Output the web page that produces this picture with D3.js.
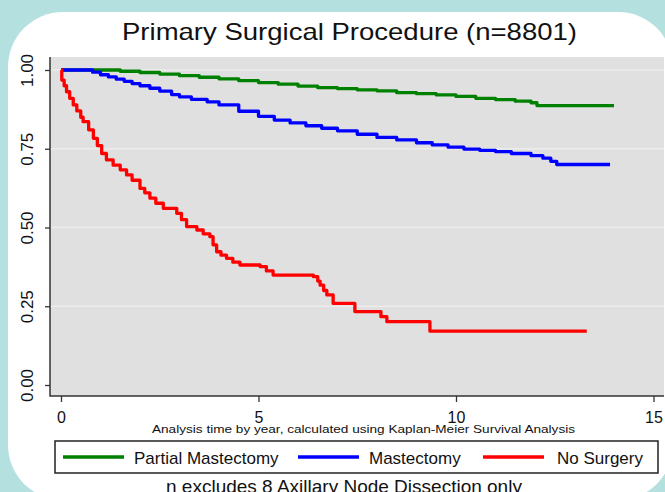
<!DOCTYPE html>
<html>
<head>
<meta charset="utf-8">
<script src="https://cdn.jsdelivr.net/npm/d3@7"></script>
<style>
  body { margin: 0; background: #b4e1e0; }
  svg { display: block; font-family: "Liberation Sans", Arial, sans-serif; }
  .axis text { fill: #111; }
</style>
</head>
<body>
<svg id="chart"></svg>
<script>
// Kaplan-Meier step points [year, survival]
const partialMastectomy = [
  [0, 1], [1.2, 1], [1.5, 0.996], [2, 0.992], [2.5, 0.987], [3, 0.982], [3.5, 0.977],
  [4, 0.972], [4.5, 0.966], [5, 0.960], [5.5, 0.955], [6, 0.949], [6.5, 0.944],
  [7, 0.941], [7.5, 0.937], [8, 0.934], [8.5, 0.928], [9, 0.925], [9.5, 0.921],
  [10, 0.916], [10.5, 0.910], [11, 0.906], [11.5, 0.901], [11.9, 0.896],
  [12.05, 0.887], [14, 0.887]
];
const mastectomy = [
  [0, 1], [0.5, 1], [0.8, 0.993], [1.0, 0.985], [1.2, 0.978], [1.4, 0.971],
  [1.6, 0.964], [1.8, 0.957], [2.0, 0.950], [2.25, 0.942], [2.5, 0.933],
  [2.8, 0.922], [3.0, 0.915], [3.3, 0.907], [3.7, 0.899], [4.0, 0.889],
  [4.5, 0.869], [5.0, 0.853], [5.4, 0.841], [5.8, 0.832], [6.2, 0.823],
  [6.6, 0.815], [7.0, 0.807], [7.5, 0.796], [8.0, 0.786], [8.5, 0.778],
  [9.0, 0.769], [9.4, 0.762], [9.8, 0.755], [10.2, 0.749], [10.6, 0.745],
  [11.0, 0.741], [11.4, 0.735], [11.9, 0.728], [12.2, 0.720], [12.4, 0.710],
  [12.55, 0.700], [13.9, 0.700]
];
const noSurgery = [
  [0, 1], [0.02, 0.968], [0.08, 0.95], [0.14, 0.931], [0.22, 0.91], [0.31, 0.889],
  [0.4, 0.87], [0.5, 0.85], [0.56, 0.836], [0.7, 0.81], [0.82, 0.783], [0.92, 0.76],
  [1.03, 0.735], [1.15, 0.715], [1.32, 0.698], [1.5, 0.683], [1.66, 0.667],
  [1.8, 0.65], [2.0, 0.624], [2.12, 0.61], [2.25, 0.593], [2.4, 0.577],
  [2.59, 0.561], [2.93, 0.545], [3.05, 0.525], [3.18, 0.503], [3.44, 0.492],
  [3.6, 0.48], [3.77, 0.471], [3.85, 0.445], [3.94, 0.423], [4.05, 0.412],
  [4.19, 0.402], [4.35, 0.39], [4.53, 0.381], [5.04, 0.376], [5.2, 0.362],
  [5.37, 0.349], [6.39, 0.344], [6.5, 0.33], [6.56, 0.317], [6.65, 0.30],
  [6.73, 0.286], [6.89, 0.259], [7.44, 0.233], [8.1, 0.217], [8.25, 0.201],
  [9.34, 0.171], [13.31, 0.171]
];

const seriesNames = ['Partial Mastectomy', 'Mastectomy', 'No Surgery'];
const seriesColors = ['#008000', '#0000ff', '#ff0000'];
const xTicks = [0, 5, 10, 15];
const yTicks = [0, 0.25, 0.5, 0.75, 1];

const title = 'Primary Surgical Procedure (n=8801)';
const xTitle = 'Analysis time by year, calculated using Kaplan-Meier Survival Analysis';
const footnote = 'n excludes 8 Axillary Node Dissection only';

const width = 665, height = 492;
const plot = { left: 50, right: 664, top: 57, bottom: 396 };

const svg = d3.select('#chart')
  .attr('width', width)
  .attr('height', height);

// teal backdrop with white rounded card
svg.append('rect')
  .attr('width', width).attr('height', height)
  .attr('fill', '#b4e1e0');
svg.append('rect')
  .attr('x', 8).attr('y', 12)
  .attr('width', 665).attr('height', 488)
  .attr('rx', 55).attr('ry', 55)
  .attr('fill', '#ffffff');

// scales
const x = d3.scaleLinear().domain([0, 15]).range([61, 653.5]);
const y = d3.scaleLinear().domain([0, 1]).range([385, 70]);

// plot background
svg.append('rect')
  .attr('x', plot.left).attr('y', plot.top)
  .attr('width', plot.right - plot.left)
  .attr('height', plot.bottom - plot.top)
  .attr('fill', '#e0e0e0');

// grid lines
svg.append('g')
  .selectAll('line')
  .data(yTicks.filter(d => d > 0))
  .join('line')
  .attr('x1', plot.left).attr('x2', plot.right)
  .attr('y1', d => y(d)).attr('y2', d => y(d))
  .attr('stroke', '#ececec')
  .attr('stroke-width', 1.5);

// title
svg.append('text')
  .attr('x', 122).attr('y', 40)
  .attr('textLength', 455)
  .attr('lengthAdjust', 'spacingAndGlyphs')
  .style('font-size', '24px')
  .attr('fill', '#111')
  .text(title);

// y axis
const yAxisG = svg.append('g')
  .attr('class', 'axis')
  .attr('transform', `translate(${plot.left},0)`)
  .call(d3.axisLeft(y).tickValues(yTicks).tickFormat(d3.format('.2f')).tickSize(5).tickPadding(0));
yAxisG.select('.domain').remove();
yAxisG.selectAll('.tick line').attr('stroke', '#333').attr('stroke-width', 1.3);
yAxisG.selectAll('.tick text')
  .attr('x', 0).attr('dy', 0)
  .attr('text-anchor', 'middle')
  .attr('transform', 'translate(-17,0) rotate(-90)')
  .style('font-size', '17px');

// x axis
const xAxisG = svg.append('g')
  .attr('class', 'axis')
  .attr('transform', `translate(0,${plot.bottom})`)
  .call(d3.axisBottom(x).tickValues(xTicks).tickSize(6).tickPadding(10));
xAxisG.select('.domain').remove();
xAxisG.selectAll('.tick line').attr('stroke', '#333').attr('stroke-width', 1.3);
xAxisG.selectAll('.tick text').style('font-size', '16px');

// axis lines
svg.append('path')
  .attr('d', `M${plot.left},${plot.top}V${plot.bottom}H${plot.right}`)
  .attr('fill', 'none')
  .attr('stroke', '#333')
  .attr('stroke-width', 1.5);

// survival curves
const line = d3.line()
  .x(d => x(d[0]))
  .y(d => y(d[1]))
  .curve(d3.curveStepAfter);

const allSeries = [partialMastectomy, mastectomy, noSurgery];
svg.append('g')
  .selectAll('path')
  .data(allSeries)
  .join('path')
  .attr('d', line)
  .attr('fill', 'none')
  .attr('stroke', (d, i) => seriesColors[i])
  .attr('stroke-width', 3.3)
  .attr('stroke-linejoin', 'round');

// x axis title
svg.append('text')
  .attr('x', 152).attr('y', 433)
  .attr('textLength', 423)
  .attr('lengthAdjust', 'spacingAndGlyphs')
  .style('font-size', '11.5px')
  .attr('fill', '#111')
  .text(xTitle);

// legend
svg.append('rect')
  .attr('x', 55).attr('y', 441)
  .attr('width', 603).attr('height', 32)
  .attr('fill', '#fff')
  .attr('stroke', '#222')
  .attr('stroke-width', 1.5);

const legendX = [63, 298, 483];
const legendItems = svg.append('g')
  .selectAll('g')
  .data(seriesNames)
  .join('g')
  .attr('transform', (d, i) => `translate(${legendX[i]},457)`);
legendItems.append('line')
  .attr('x1', 0).attr('x2', 61)
  .attr('stroke', (d, i) => seriesColors[i])
  .attr('stroke-width', 3.5);
legendItems.append('text')
  .attr('x', (d, i) => i === 2 ? 74 : 71)
  .attr('y', 7)
  .style('font-size', '17px')
  .attr('fill', '#111')
  .text(d => d);

// footnote
svg.append('text')
  .attr('x', 166).attr('y', 493)
  .style('font-size', '19px')
  .attr('fill', '#111')
  .text(footnote);
</script>
</body>
</html>
